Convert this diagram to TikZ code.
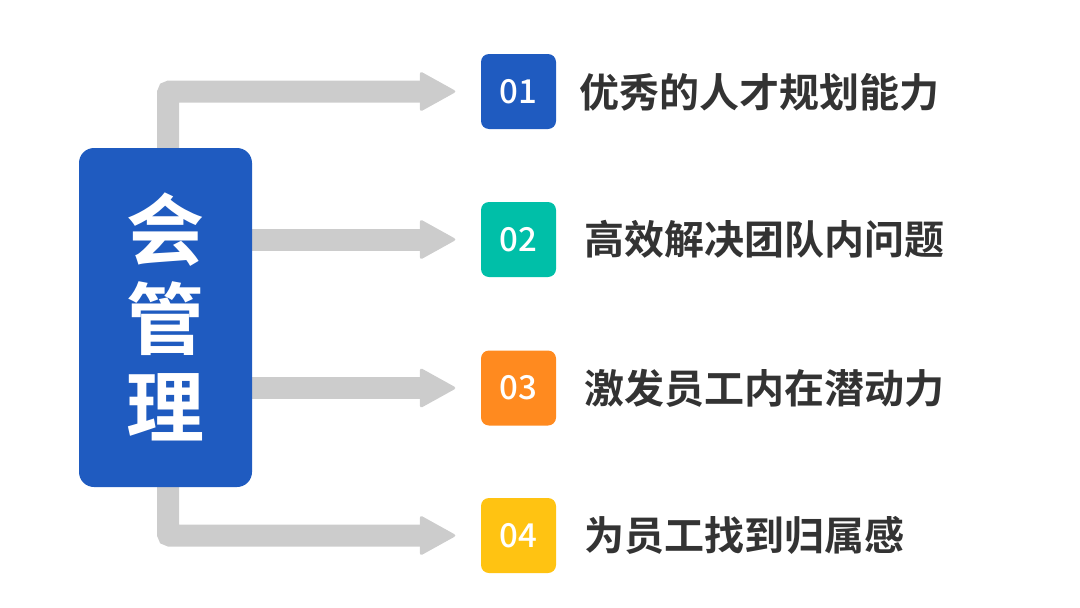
\documentclass[tikz,border=0pt]{standalone}
\usepackage{fontspec}
\setmainfont{Noto Sans CJK SC}[BoldFont={* Bold}]
\newfontfamily\digitfont{Noto Sans CJK SC Medium}
\usetikzlibrary{calc,backgrounds}
\definecolor{mblue}{HTML}{1F5BC0}
\definecolor{mteal}{HTML}{00BFA8}
\definecolor{morange}{HTML}{FF8A1F}
\definecolor{myellow}{HTML}{FFC312}
\definecolor{agray}{HTML}{CCCCCC}
\definecolor{tgray}{HTML}{333333}
\tikzset{
  mainbox/.style={fill=mblue, rounded corners=15pt, minimum width=173pt, minimum height=339pt, inner sep=0pt},
  maintext/.style={text=white, font=\bfseries\fontsize{78}{88.5}\selectfont, align=center},
  numbox/.style={minimum size=75pt, rounded corners=8pt, inner sep=0pt, text=white, font=\digitfont\fontsize{33}{36}\selectfont},
  itemtext/.style={anchor=west, inner sep=0pt, text=tgray, font=\bfseries\fontsize{40}{44}\selectfont},
  shaft/.style={draw=agray, line width=22pt, rounded corners=2pt},
  ahead/.style={fill=agray, rounded corners=3pt}
}
\newcommand{\arrowhead}[1]{\fill[ahead] ($(#1)+(-37,-20.5)$) -- (#1) -- ($(#1)+(-37,20.5)$) -- cycle;}
\begin{document}
\begin{tikzpicture}[x=1pt,y=-1pt]
\useasboundingbox (0,0) rectangle (1080,608);
\node[mainbox] (main) at (165.5,317.5) {};
\node[maintext] (mt) at (165.5,317) {会\\管\\理};
\node[numbox, fill=mblue] (n1) at (518.5,91.5) {01};
\node[numbox, fill=mteal] (n2) at (518.5,239.5) {02};
\node[numbox, fill=morange] (n3) at (518.5,388) {03};
\node[numbox, fill=myellow] (n4) at (518.5,535.5) {04};
\node[itemtext] (t1) at (579,92) {优秀的人才规划能力};
\node[itemtext] (t2) at (584,239.5) {高效解决团队内问题};
\node[itemtext] (t3) at (584,388) {激发员工内在潜动力};
\node[itemtext] (t4) at (584,535.5) {为员工找到归属感};
\begin{scope}[on background layer]
  \coordinate (h1) at ([xshift=-24pt]n1.west);
  \coordinate (h2) at ([xshift=-24pt]n2.west);
  \coordinate (h3) at ([xshift=-24pt]n3.west);
  \coordinate (h4) at ([xshift=-24pt]n4.west);
  \draw[shaft] ([xshift=2.5pt,yshift=-30pt]main.north) |- ([xshift=-58pt]n1.west);
  \draw[shaft] (main.center |- n2.west) -- ([xshift=-58pt]n2.west);
  \draw[shaft] (main.center |- n3.west) -- ([xshift=-58pt]n3.west);
  \draw[shaft] ([xshift=2.5pt,yshift=30pt]main.south) |- ([xshift=-58pt]n4.west);
  \arrowhead{h1}
  \arrowhead{h2}
  \arrowhead{h3}
  \arrowhead{h4}
\end{scope}
\end{tikzpicture}
\end{document}
